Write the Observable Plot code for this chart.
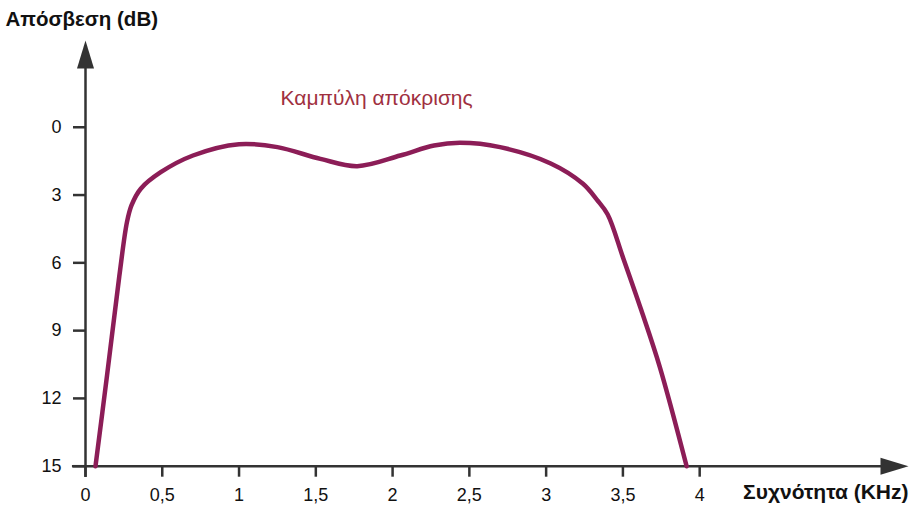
<!DOCTYPE html>
<html><head><meta charset="utf-8">
<script src="https://cdn.jsdelivr.net/npm/d3@7"></script>
<script src="https://cdn.jsdelivr.net/npm/@observablehq/plot@0.6"></script>
<style>body{margin:0;background:#fff;}</style>
</head><body><div id="chart"></div>
<script>
// Response curve: frequency (kHz) vs attenuation (dB)
const freq  = [0.065, 0.14, 0.22, 0.27, 0.30, 0.36, 0.49, 0.70, 1.0, 1.25, 1.53, 1.77, 2.05, 2.27, 2.44, 2.7, 3.03, 3.24, 3.33, 3.40, 3.50, 3.62, 3.74, 3.915];
const atten = [15, 11.0, 6.6, 4.2, 3.45, 2.72, 1.99, 1.25, 0.75, 0.88, 1.4, 1.72, 1.25, 0.81, 0.69, 0.88, 1.6, 2.5, 3.2, 3.85, 5.75, 8.1, 10.6, 15];
const xTicks = [0, 0.5, 1, 1.5, 2, 2.5, 3, 3.5, 4];
const yTicks = [0, 3, 6, 9, 12, 15];
const curveLabel = "Καμπύλη απόκρισης";
const yTitle = "Απόσβεση (dB)";
const xTitle = "Συχνότητα (KHz)";

const data = freq.map((f, i) => ({f, dB: atten[i]}));

// axis extents in data units
const X_MIN = -0.085, X_ARROW = 5.36, Y_BOTTOM = 15.5, Y_ARROW = -3.84;

const AXIS = "#333";
const arrowHead = {draw(ctx) { ctx.moveTo(0, 0); ctx.lineTo(-8.5, 28); ctx.lineTo(8.5, 28); ctx.closePath(); }};
const fmt = d => String(d).replace(".", ",");

const chart = Plot.plot({
  width: 913, height: 507,
  marginLeft: 85, marginRight: 5, marginTop: 40, marginBottom: 41.3,
  style: {fontFamily: "'Liberation Sans', Arial, sans-serif", fontSize: "18px", background: "#fff", color: "#111"},
  x: {domain: [0, X_ARROW]},
  y: {domain: [Y_ARROW, 15], reverse: true},
  marks: [
    Plot.axisY({ticks: yTicks, tickSize: 12, tickPadding: 12, tickFormat: fmt, stroke: AXIS, strokeWidth: 2.5, fill: "#111", label: null}),
    Plot.axisX({ticks: xTicks, tickSize: 11, tickPadding: 11, tickFormat: fmt, stroke: AXIS, strokeWidth: 2.5, fill: "#111", label: null}),
    Plot.ruleX([0], {y1: Y_ARROW + 1.2, y2: Y_BOTTOM, stroke: AXIS, strokeWidth: 2.5}),
    Plot.ruleY([15], {x1: X_MIN, x2: X_ARROW - 0.17, stroke: AXIS, strokeWidth: 2.5}),
    Plot.dot([0], {x: 0, y: Y_ARROW, symbol: arrowHead, fill: AXIS, stroke: null, rotate: 0}),
    Plot.dot([0], {x: X_ARROW, y: 15, symbol: arrowHead, fill: AXIS, stroke: null, rotate: 90}),
    Plot.line(data, {x: "f", y: "dB", curve: "catmull-rom", stroke: "#8c1d57", strokeWidth: 4.5, strokeLinecap: "round"}),
    Plot.text([curveLabel], {x: 1.27, y: -1.3, text: d => d, textAnchor: "start", fill: "#a0303f", fontSize: 21}),
    Plot.text([yTitle], {frameAnchor: "top-left", text: d => d, dx: -80, dy: -29, textAnchor: "start", fontWeight: "bold", fontSize: 20.5, fill: "#111"}),
    Plot.text([xTitle], {frameAnchor: "bottom-right", text: d => d, dx: 0, dy: 33, textAnchor: "end", fontWeight: "bold", fontSize: 21, fill: "#111"})
  ]
});
document.getElementById("chart").appendChild(chart);
</script>
</body></html>
